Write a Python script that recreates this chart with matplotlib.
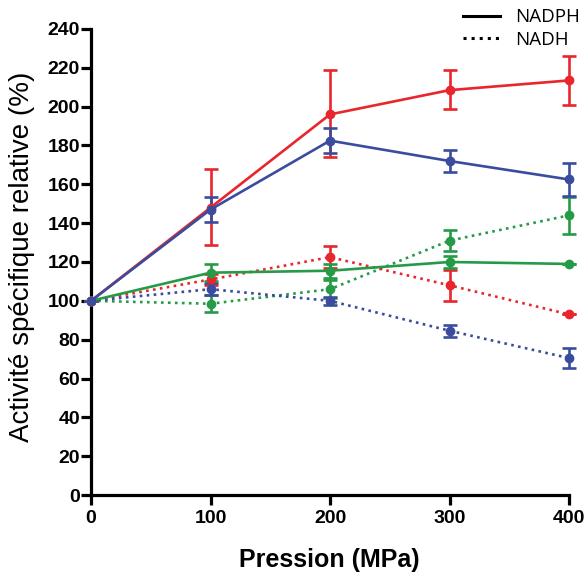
import matplotlib
matplotlib.use("Agg")
import matplotlib.pyplot as plt
from matplotlib.lines import Line2D

pressure = [0, 100, 200, 300, 400]

red_nadph = [100, 148, 196, 208.5, 213.5]
red_nadph_lo = [0, 19, 22, 9.5, 12.5]
red_nadph_hi = [0, 20, 23, 10.5, 12.5]

blue_nadph = [100, 147, 182.5, 172, 162.5]
blue_nadph_err = [0, 6.5, 6.5, 5.5, 8.5]

green_nadph = [100, 114.5, 115.5, 120, 119]
green_nadph_err = [0, 4.5, 3.5, 3, 0]

red_nadh = [100, 111, 122.5, 108, 93]
red_nadh_err = [0, 3, 5.5, 8, 0]

blue_nadh = [100, 106, 100, 84.6, 70.5]
blue_nadh_err = [0, 3, 2, 3, 5]

green_nadh = [100, 98.5, 106, 131, 144]
green_nadh_err = [0, 4.5, 4.5, 5.5, 9.5]

RED = "#E8262B"
BLUE = "#3A4C9E"
GREEN = "#259B47"

plt.rcParams['font.family'] = ['Liberation Sans', 'DejaVu Sans']

fig = plt.figure(figsize=(5.88, 5.76), dpi=100)
ax = fig.add_axes([0.1548, 0.1406, 0.8129, 0.8091])

def draw(y, err, color, ls):
    ax.errorbar(pressure, y, yerr=err, color=color, ls=ls, lw=1.9,
                marker='o', ms=6, capsize=5, capthick=1.9, elinewidth=1.9,
                clip_on=False, zorder=3)

draw(green_nadh, green_nadh_err, GREEN, ':')
draw(red_nadh, red_nadh_err, RED, ':')
draw(blue_nadh, blue_nadh_err, BLUE, ':')
draw(green_nadph, green_nadph_err, GREEN, '-')
draw(red_nadph, [red_nadph_lo, red_nadph_hi], RED, '-')
draw(blue_nadph, blue_nadph_err, BLUE, '-')

ax.set_xlim(0, 400)
ax.set_ylim(0, 240)
ax.set_xticks(pressure)
ax.set_yticks(range(0, 241, 20))
for s in ['top', 'right']:
    ax.spines[s].set_visible(False)
for s in ['left', 'bottom']:
    ax.spines[s].set_linewidth(2.3)
ax.tick_params(width=2.3, length=7, labelsize=14, pad=1)
ax.tick_params(axis='x', pad=4)
for lbl in ax.get_xticklabels() + ax.get_yticklabels():
    lbl.set_fontweight('bold')

fig.text(0.5604, 0.028, 'Pression (MPa)', fontsize=18, fontweight='bold',
         ha='center', va='center')
fig.text(0.037, 0.555, 'Activité spécifique relative (%)', fontsize=20,
         rotation=90, ha='center', va='center')

handles = [Line2D([], [], color='black', lw=2.2, ls='-'),
           Line2D([], [], color='black', lw=2.2, ls=':')]
leg = fig.legend(handles, ['NADPH', 'NADH'], loc='upper right',
                 bbox_to_anchor=(1.015, 1.015), frameon=False,
                 handlelength=2.0, handletextpad=0.8, labelspacing=0.25,
                 prop={'family': ['Open Sans', 'DejaVu Sans'], 'size': 13.5})

fig.savefig('out.png', dpi=100)
